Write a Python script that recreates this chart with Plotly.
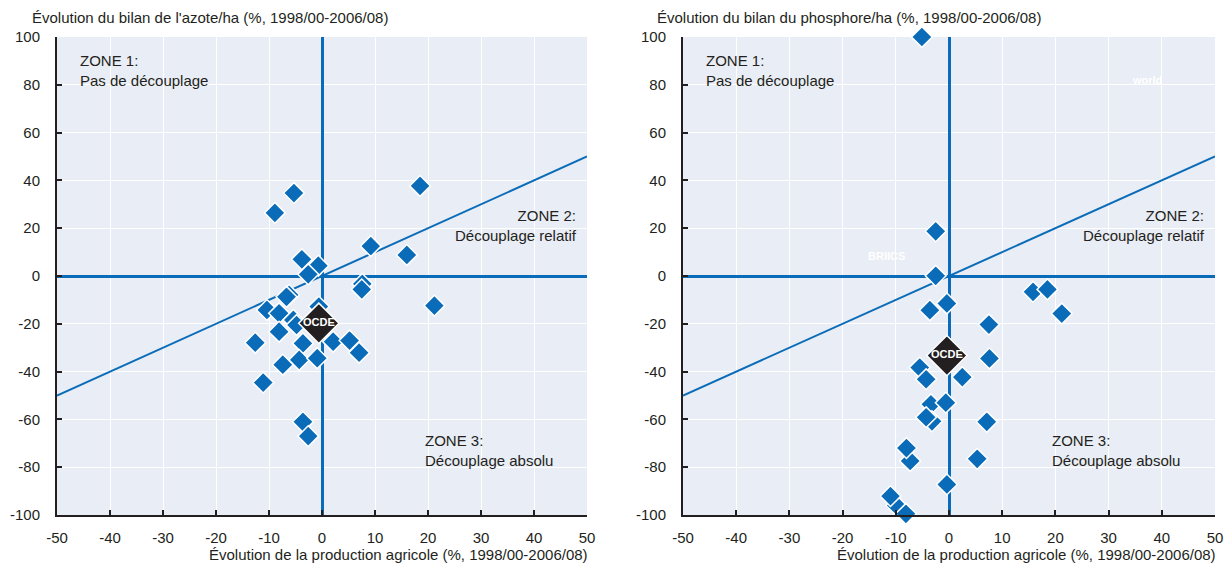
import plotly.graph_objects as go
from plotly.subplots import make_subplots

# ---- Data ----
azote_x = [-8.9, -5.3, 18.5, 9.2, 16.0, -3.8, -0.7, -2.6, 7.6, 7.5, 21.2, -6.2, -6.7,
           -10.4, -8.1, -5.4, -4.8, -0.6, -8.1, -12.6, -3.6, 2.1, 5.2, 7.0, -4.3, -0.9,
           -7.4, -11.1, -3.6, -2.6]
azote_y = [26.4, 34.7, 37.7, 12.5, 8.8, 7.0, 4.3, 0.7, -3.3, -5.6, -12.4, -7.9, -8.7,
           -14.2, -15.6, -18.4, -20.5, -12.8, -23.3, -27.9, -28.2, -27.5, -27.0, -32.1,
           -35.1, -34.4, -37.1, -44.6, -61.0, -67.0]

phos_x = [-5.1, -2.5, -2.5, -0.4, -3.6, 7.5, 15.8, 18.5, 21.2, 7.6, -5.5, -4.3, 2.5,
          -3.4, -0.6, -3.2, -4.3, 7.1, -7.3, -8.0, 5.3, -0.4, -9.9, -11.0, -8.1]
phos_y = [100.0, 18.7, 0.1, -11.5, -14.3, -20.3, -6.6, -5.6, -15.7, -34.5, -38.3, -43.2,
          -42.3, -53.7, -53.0, -60.8, -59.1, -61.0, -77.4, -72.0, -76.5, -87.2, -96.0,
          -92.1, -99.5]

ocde_azote = (-0.6, -19.8)
ocde_phos = (-0.4, -33.3)

line_x = [-50, 50]
line_y = [-50, 50]

x_ticks = [-50, -40, -30, -20, -10, 0, 10, 20, 30, 40, 50]
x_ticktext = ["-50", "-40", "-30", "-20", "-10", "0", "10", "20", "30", "40", "50"]
y_ticks = [-100, -80, -60, -40, -20, 0, 20, 40, 60, 80, 100]
y_ticktext = ["-100", "-80", "-60", "-40", "-20", "0", "20", "40", "60", "80", "100"]

y_titles = ["Évolution du bilan de l'azote/ha (%, 1998/00-2006/08)",
            "Évolution du bilan du phosphore/ha (%, 1998/00-2006/08)"]
x_title = "Évolution de la production agricole (%, 1998/00-2006/08)"
zone1 = "ZONE 1:<br>Pas de découplage"
zone2 = "ZONE 2:<br>Découplage relatif"
zone3 = "ZONE 3:<br>Découplage absolu"

# ---- Style ----
BLUE = "#0a6cb8"
DARK = "#231f20"
BG = "#e9edf5"
FONT = "Liberation Sans Narrow, Arial Narrow, Liberation Sans, Arial"

fig = make_subplots(rows=1, cols=2, horizontal_spacing=0.0829)

for col, (xs, ys, oc) in enumerate([(azote_x, azote_y, ocde_azote),
                                    (phos_x, phos_y, ocde_phos)], start=1):
    fig.add_trace(go.Scatter(x=line_x, y=line_y, mode="lines",
                             line=dict(color=BLUE, width=2), hoverinfo="skip",
                             showlegend=False), row=1, col=col)
    fig.add_trace(go.Scatter(x=xs, y=ys, mode="markers",
                             marker=dict(symbol="diamond", size=16, color=BLUE,
                                         line=dict(color="white", width=1.5)),
                             cliponaxis=False, showlegend=False), row=1, col=col)
    fig.add_trace(go.Scatter(x=[oc[0]], y=[oc[1]], mode="markers+text", text=["<b>OCDE</b>"],
                             textposition="middle center",
                             textfont=dict(color="white", size=11, family=FONT),
                             marker=dict(symbol="diamond", size=31, color=DARK,
                                         line=dict(color="white", width=1.5)),
                             cliponaxis=False, showlegend=False), row=1, col=col)

axis_common = dict(showgrid=True, gridcolor="white", gridwidth=1,
                   zeroline=True, zerolinecolor=BLUE, zerolinewidth=2.5,
                   showline=True, linecolor=DARK, linewidth=2,
                   ticks="inside", ticklen=5, tickcolor=DARK, tickwidth=1.5,
                   automargin=False,
                   tickfont=dict(family=FONT, size=15, color=DARK))

for col in (1, 2):
    fig.update_xaxes(range=[-50, 50], tickvals=x_ticks, ticktext=x_ticktext,
                     ticklabelstandoff=8, row=1, col=col, **axis_common)
    fig.update_yaxes(range=[-100, 100], tickvals=y_ticks, ticktext=y_ticktext,
                     ticklabelstandoff=12, row=1, col=col, **axis_common)

fig.update_xaxes(domain=[0, 0.4577], row=1, col=1)
fig.update_xaxes(domain=[0.5406, 1.0], row=1, col=2)

annotations = []
tf = dict(family=FONT, size=15, color=DARK)
for i, (xr, yr) in enumerate([("x", "y"), ("x2", "y2")]):
    annotations += [
        dict(x=-46, y=86, xref=xr, yref=yr, text=zone1, showarrow=False,
             xanchor="left", yanchor="middle", align="left", font=tf),
        dict(x=48.5, y=21, xref=xr, yref=yr, text=zone2, showarrow=False,
             xanchor="right", yanchor="middle", align="right", font=tf),
        dict(x=19, y=-73, xref=xr, yref=yr, text=zone3, showarrow=False,
             xanchor="left", yanchor="middle", align="left", font=tf),
    ]
annotations += [
    dict(x=37.2, y=82, xref="x2", yref="y2", text="<b>world</b>", showarrow=False,
         font=dict(family=FONT, size=11, color="white")),
    dict(x=-11.7, y=8.4, xref="x2", yref="y2", text="<b>BRIICS</b>", showarrow=False,
         font=dict(family=FONT, size=11, color="white")),
    dict(x=-0.0233, y=1.04, xref="paper", yref="paper", text=y_titles[0],
         showarrow=False, xanchor="left", yanchor="middle", font=tf),
    dict(x=0.5164, y=1.04, xref="paper", yref="paper", text=y_titles[1],
         showarrow=False, xanchor="left", yanchor="middle", font=tf),
    dict(x=0.4603, y=-0.083, xref="paper", yref="paper", text=x_title,
         showarrow=False, xanchor="right", yanchor="middle", font=tf),
    dict(x=1.0026, y=-0.083, xref="paper", yref="paper", text=x_title,
         showarrow=False, xanchor="right", yanchor="middle", font=tf),
]

fig.update_layout(width=1228, height=564, margin=dict(l=57, r=13, t=37, b=49),
                  plot_bgcolor=BG, paper_bgcolor="white", annotations=annotations,
                  font=dict(family=FONT, color=DARK), showlegend=False)

fig.write_html("out.html")
